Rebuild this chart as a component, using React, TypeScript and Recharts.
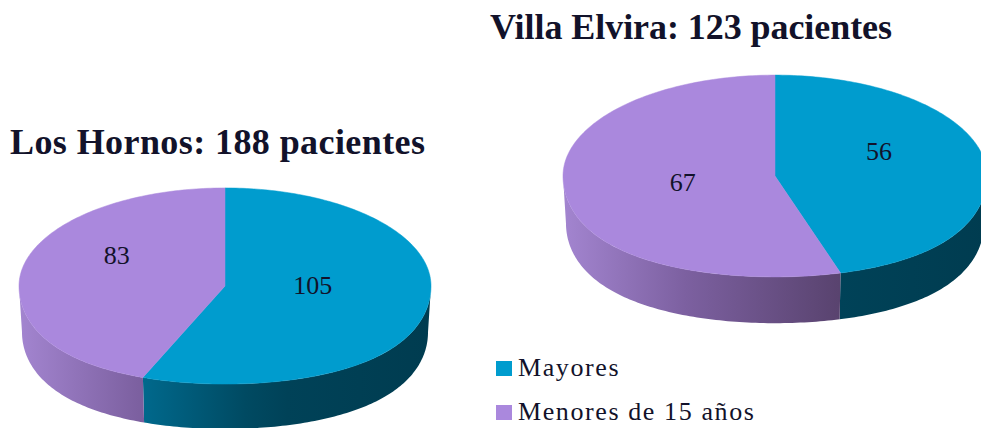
import { PieChart, Pie, Legend } from 'recharts'

const categories = ['Mayores', 'Menores de 15 años']
const losHornosValues = [105, 83]
const villaElviraValues = [56, 67]
const sliceColors = ['#009CCE', '#AA88DD']

const sideStops = [
  [
    [0, '#0090c0'],
    [0.29, '#006a8e'],
    [0.55, '#004a62'],
    [0.65, '#004258'],
    [1, '#003c50'],
  ],
  [
    [0, '#a385d0'],
    [0.29, '#7c60a0'],
    [0.65, '#59436f'],
    [1, '#4a3860'],
  ],
]

const WIDTH = 981
const HEIGHT = 428
const TILT = 0.476 // squash of the disc
const DEPTH_RATIO = 0.225
const PERSPECTIVE = 0.125
const SERIF = '"Liberation Serif", serif'
const INK = '#12122a'

const toPie = (values: number[]) => values.map((value, i) => ({ name: categories[i], value, fill: sliceColors[i] }))

function rimPoint(cx: number, cy: number, r: number, deg: number) {
  const a = (deg * Math.PI) / 180
  const x = Math.cos(a)
  const y = -Math.sin(a)
  // only the front half of the disc is widened, the back stays a plain ellipse
  const front = Math.max(y, 0)
  return [cx + r * x * (1 + PERSPECTIVE * front * front), cy + r * TILT * y]
}

function arc(cx: number, cy: number, r: number, from: number, to: number) {
  const pts: number[][] = []
  const steps = Math.max(2, Math.ceil(Math.abs(from - to)))
  for (let i = 0; i <= steps; i++) pts.push(rimPoint(cx, cy, r, from + ((to - from) * i) / steps))
  return pts
}

const toPath = (pts: number[][]) => 'M' + pts.map((p) => `${p[0].toFixed(2)},${p[1].toFixed(2)}`).join('L') + 'Z'

// 3D slice: the rim wall first, then the flat top, both from the angles recharts computes
function Slice3D(props: any) {
  const { cx, cy, outerRadius: r, startAngle, endAngle, fill, index, name } = props
  const slot = sliceColors.indexOf(fill)
  const gradId = `side-${cx}-${index}-${name === categories[0] ? 0 : 1}`
  const from = Math.min(startAngle, 0)
  const to = Math.max(endAngle, -180)
  const depth = r * DEPTH_RATIO
  const top = [[cx, cy], ...arc(cx, cy, r, startAngle, endAngle)]
  let wall: number[][] | null = null
  if (from > to) {
    wall = [...arc(cx, cy, r, from, to), ...arc(cx, cy + depth, r - 3, to, from)]
  }
  return (
    <g>
      <defs>
        <linearGradient id={gradId} gradientUnits="userSpaceOnUse" x1={cx - r} x2={cx + r} y1={0} y2={0}>
          {sideStops[slot].map(([o, c]) => (
            <stop key={o as number} offset={o as number} stopColor={c as string} />
          ))}
        </linearGradient>
      </defs>
      {wall && <path d={toPath(wall)} fill={`url(#${gradId})`} />}
      <path d={toPath(top)} fill={fill} stroke={fill} strokeWidth={0.5} />
    </g>
  )
}

// fine adjustment of each value label, [dx, dy]
function valueLabel(nudges: number[][]) {
  return (props: any) => {
    const { cx, cy, midAngle, outerRadius, value, index } = props
    const p = rimPoint(cx, cy, outerRadius * 0.5, midAngle)
    return (
      <text
        x={p[0] + nudges[index][0]}
        y={p[1] + nudges[index][1]}
        textAnchor="middle"
        dominantBaseline="central"
        fill={INK}
        style={{ fontFamily: SERIF, fontSize: 26 }}
      >
        {value}
      </text>
    )
  }
}

function LegendBox() {
  return (
    <div style={{ fontFamily: SERIF, fontSize: 26, color: INK, letterSpacing: 1.6 }}>
      {categories.map((c, i) => (
        <div key={c} style={{ height: 44, lineHeight: '44px', display: 'flex', alignItems: 'center' }}>
          <span style={{ width: 16, height: 15, background: sliceColors[i], marginRight: 6, flexShrink: 0 }} />
          {c}
        </div>
      ))}
    </div>
  )
}

const titleStyle = { fontFamily: SERIF, fontWeight: 700, fontSize: 36 }

export default function App() {
  return (
    <div style={{ position: 'absolute', left: 0, top: 0, width: WIDTH, height: HEIGHT, overflow: 'hidden' }}>
      <PieChart width={WIDTH} height={HEIGHT} margin={{ top: 0, right: 0, bottom: 0, left: 0 }}>
        <Pie
          data={toPie(losHornosValues)}
          dataKey="value"
          nameKey="name"
          cx={225}
          cy={286}
          outerRadius={206}
          startAngle={90}
          endAngle={-270}
          stroke="none"
          shape={Slice3D}
          label={valueLabel([[-14, -9], [-7, -22]])}
          labelLine={false}
          isAnimationActive={false}
        />
        <Pie
          data={toPie(villaElviraValues)}
          dataKey="value"
          nameKey="name"
          cx={775}
          cy={176}
          outerRadius={212}
          startAngle={90}
          endAngle={-270}
          stroke="none"
          shape={Slice3D}
          label={valueLabel([[-1, -17], [13, -1]])}
          labelLine={false}
          isAnimationActive={false}
        />
        <Legend
          content={<LegendBox />}
          layout="vertical"
          verticalAlign="middle"
          align="center"
          wrapperStyle={{ left: 496, top: 346, width: 300 }}
        />
        <text x={10} y={154} fill={INK} textLength={415} style={titleStyle}>
          Los Hornos: 188 pacientes
        </text>
        <text x={490} y={39} fill={INK} textLength={402} style={titleStyle}>
          Villa Elvira: 123 pacientes
        </text>
      </PieChart>
    </div>
  )
}
